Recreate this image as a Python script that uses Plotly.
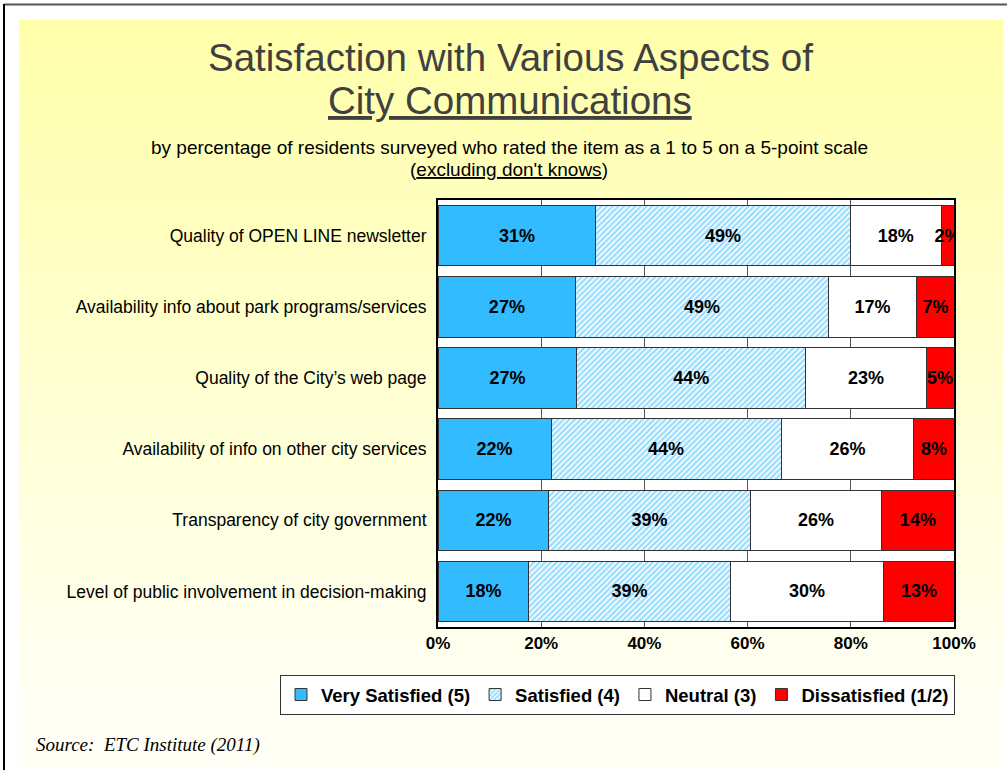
import plotly.graph_objects as go

# ---------------- data ----------------
categories = [
    "Quality of OPEN LINE newsletter",
    "Availability info about park programs/services",
    "Quality of the City\u2019s web page",
    "Availability of info on other city services",
    "Transparency of city government",
    "Level of public involvement in decision-making",
]
series_names = ["Very Satisfied (5)", "Satisfied (4)", "Neutral (3)", "Dissatisfied (1/2)"]

very_satisfied = [30.6, 26.7, 26.9, 21.9, 21.5, 17.6]
satisfied = [49.3, 48.9, 44.4, 44.6, 39.0, 39.0]
neutral = [17.6, 17.2, 23.3, 25.7, 25.5, 29.8]
dissatisfied = [2.5, 7.2, 5.4, 7.8, 14.0, 13.6]

very_satisfied_labels = [31, 27, 27, 22, 22, 18]
satisfied_labels = [49, 49, 44, 44, 39, 39]
neutral_labels = [18, 17, 23, 26, 26, 30]
dissatisfied_labels = [2, 7, 5, 8, 14, 13]

x_ticks = [0, 20, 40, 60, 80, 100]

# ---------------- layout geometry (pixels) ----------------
W, H = 1007, 770
PL, PR, PT, PB = 438, 954, 200, 627


def px(x):
    return (x - PL) / (PR - PL)


def py(y):
    return (PB - y) / (PB - PT)


fig = go.Figure()

bar_line = dict(color="#333333", width=1)
text_font = dict(family="Arial, Liberation Sans, sans-serif", size=18, color="black")

series = [
    (very_satisfied, very_satisfied_labels, dict(color="#33BBFF", line=bar_line)),
    (satisfied, satisfied_labels, dict(color="white", line=bar_line,
                                       pattern=dict(shape="/", fgcolor="#33BBFF", bgcolor="white",
                                                    size=4, solidity=0.6))),
    (neutral, neutral_labels, dict(color="white", line=bar_line)),
    (dissatisfied, dissatisfied_labels, dict(color="#FF0000", line=bar_line)),
]

for name, (vals, labs, marker) in zip(series_names, series):
    fig.add_trace(go.Bar(
        y=categories, x=vals, orientation="h", name=name, marker=marker,
        text=[f"<b>{v}%</b>" for v in labs], textposition="inside", textangle=0,
        insidetextanchor="middle", constraintext="none", textfont=text_font,
        hoverinfo="x+y",
    ))

# ---------------- background decoration ----------------
shapes = []
top_c = (255, 255, 170)
bot_c = (255, 255, 246)
y0 = 20
n = 76
for i in range(n):
    ya = y0 + i * 10
    yb = ya + 10
    t = min(1.0, max(0.0, (ya + 5 - 20) / 700))
    c = tuple(round(top_c[k] + (bot_c[k] - top_c[k]) * t) for k in range(3))
    shapes.append(dict(type="rect", xref="paper", yref="paper", layer="below",
                       x0=px(19), x1=px(1003), y0=py(min(yb, H)), y1=py(ya),
                       line=dict(width=0), fillcolor=f"rgb{c}"))
# white plot area on top of the gradient
shapes.append(dict(type="rect", xref="paper", yref="paper", layer="below",
                   x0=0, x1=1, y0=0, y1=1, line=dict(width=0), fillcolor="white"))
# page frame lines
shapes.append(dict(type="line", xref="paper", yref="paper", x0=px(4), x1=px(1007),
                   y0=py(4.5), y1=py(4.5), line=dict(color="#555555", width=2)))
shapes.append(dict(type="line", xref="paper", yref="paper", x0=px(4), x1=px(4),
                   y0=py(4), y1=py(770), line=dict(color="black", width=2)))

ann = []
title_font = dict(family="Arial, Liberation Sans, sans-serif", size=38.5, color="#404040")
ann.append(dict(text="Satisfaction with Various Aspects of", x=px(510), y=py(57),
                xref="paper", yref="paper", showarrow=False, font=title_font,
                xanchor="center", yanchor="middle"))
ann.append(dict(text='<span style="text-decoration:underline">City Communications</span>',
                x=px(510), y=py(101), xref="paper", yref="paper", showarrow=False,
                font=title_font, xanchor="center", yanchor="middle"))
sub_font = dict(family="Arial, Liberation Sans, sans-serif", size=19, color="black")
ann.append(dict(text="by percentage of residents surveyed who rated the item as a 1 to 5 on a 5-point scale",
                x=px(509), y=py(147), xref="paper", yref="paper", showarrow=False,
                font=sub_font, xanchor="center", yanchor="middle"))
ann.append(dict(text='(<span style="text-decoration:underline">excluding don\'t knows</span>)',
                x=px(509), y=py(170), xref="paper", yref="paper", showarrow=False,
                font=sub_font, xanchor="center", yanchor="middle"))
ann.append(dict(text="<i>Source:  ETC Institute (2011)</i>", x=px(34), y=py(745),
                xref="paper", yref="paper", showarrow=False,
                font=dict(family="Liberation Serif, Times New Roman, serif", size=19, color="black"),
                xanchor="left", yanchor="middle"))

fig.update_layout(
    width=W, height=H,
    margin=dict(l=PL, r=W - PR, t=PT, b=H - PB, pad=0),
    barmode="stack", bargap=0.15,
    paper_bgcolor="white", plot_bgcolor="white",
    shapes=shapes, annotations=ann,
    font=dict(family="Arial, Liberation Sans, sans-serif", color="black"),
    showlegend=True,
    legend=dict(orientation="h", xref="paper", yref="paper",
                x=px(280), xanchor="left", y=py(675), yanchor="top",
                bgcolor="white", bordercolor="#333333", borderwidth=1,
                font=dict(family="Arial, Liberation Sans, sans-serif", size=18.5, color="black",
                          weight="bold"),
                traceorder="normal", itemwidth=30, tracegroupgap=0),
    xaxis=dict(range=[0, 100], tickvals=x_ticks, ticktext=[f"<b>{v}%</b>" for v in x_ticks],
               tickfont=dict(size=17, color="black"), showgrid=True, gridcolor="#555555",
               gridwidth=1, zeroline=False, showline=True, mirror=True, linecolor="black",
               linewidth=2, ticks="", fixedrange=True),
    yaxis=dict(autorange="reversed", showline=True, mirror=True, linecolor="black", linewidth=2,
               ticks="", tickfont=dict(size=17.5, color="black"), ticklabelstandoff=6,
               showgrid=False, fixedrange=True),
)

fig.write_html("out.html", config={"displayModeBar": False},
               post_script="document.body.style.margin='0';document.body.style.overflow='hidden';")
